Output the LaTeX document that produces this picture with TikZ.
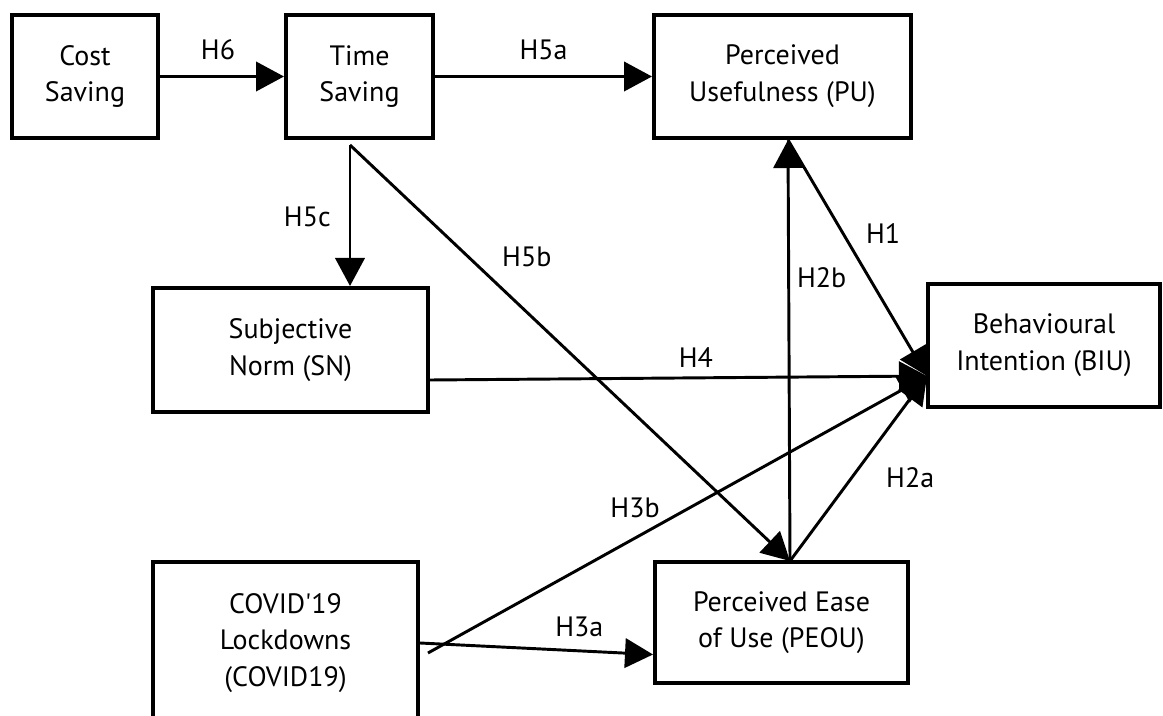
\documentclass[tikz,border=0pt]{standalone}
\usepackage{fontspec}
\setmainfont{PT Sans}
\usetikzlibrary{arrows.meta}

\tikzset{
  construct/.style={draw, line width=3pt, align=center, inner sep=0pt,
    font=\fontsize{21}{27.5}\selectfont},
  hyp/.style={line width=2.2pt, -{Triangle[length=21pt,width=22pt]}},
  hlabel/.style={inner sep=0pt, font=\fontsize{21}{24}\selectfont},
}

\begin{document}
\begin{tikzpicture}[x=0.75pt,y=-0.75pt]
  \useasboundingbox (0,0) rectangle (1163,716);
  % constructs
  \node[construct, minimum width=109.5pt, minimum height=92.25pt] (cost) at (85,76.5) {Cost\\Saving};
  \node[construct, minimum width=110.25pt, minimum height=92.25pt] (time) at (359.5,76.5) {Time\\Saving};
  \node[construct, minimum width=192.75pt, minimum height=92.25pt] (pu) at (782.5,76.5) {Perceived\\Usefulness (PU)};
  \node[construct, minimum width=206.25pt, minimum height=93pt] (sn) at (290.5,350) {Subjective\\Norm (SN)};
  \node[construct, minimum width=174pt, minimum height=92.25pt] (biu) at (1044,345.5) {Behavioural\\Intention (BIU)};
  \node[construct, minimum width=198.75pt, minimum height=121.5pt] (covid) at (285.5,643) {COVID\textquotesingle 19\\Lockdowns\\(COVID19)};
  \node[construct, minimum width=189.75pt, minimum height=90.75pt] (peou) at (781.5,622.5) {Perceived Ease\\of Use (PEOU)};

  % meeting points of the hypotheses
  \coordinate (tsb) at (350,145);
  \coordinate (pub) at (788,140);
  \coordinate (peot) at (790,561);
  \coordinate (biuw) at (927,376);
  \coordinate (cvr) at (428,653);

  % hypotheses
  \draw[hyp] (cost) -- (time) node[hlabel, midway, xshift=-3pt, yshift=20pt] {H6};
  \draw[hyp] (time) -- (pu) node[hlabel, midway, yshift=20pt] {H5a};
  \draw[hyp] (tsb) -- (tsb |- sn.north) node[hlabel, midway, xshift=-32pt, yshift=-1pt] {H5c};
  \draw[hyp] (tsb) -- (peot) node[hlabel, pos=0.27, xshift=43.5pt] {H5b};
  \draw[hyp] (pub) -- (biuw) node[hlabel, pos=0.397, xshift=30pt] {H1};
  \draw[hyp] (peot) -- (pub) node[hlabel, pos=0.673, xshift=24.75pt] {H2b};
  \draw[hyp] ([yshift=-22.5pt]sn.east) -- (biuw) node[hlabel, pos=0.535, yshift=15pt] {H4};
  \draw[hyp] (peot) -- (biuw) node[hlabel, pos=0.449, xshift=44pt] {H2a};
  \draw[hyp] (cvr) -- (biuw) node[hlabel, pos=0.415, yshift=23pt] {H3b};
  \draw[hyp] (covid.east) -- ([yshift=-24pt]peou.west) node[hlabel, pos=0.684, yshift=18pt] {H3a};
\end{tikzpicture}
\end{document}
